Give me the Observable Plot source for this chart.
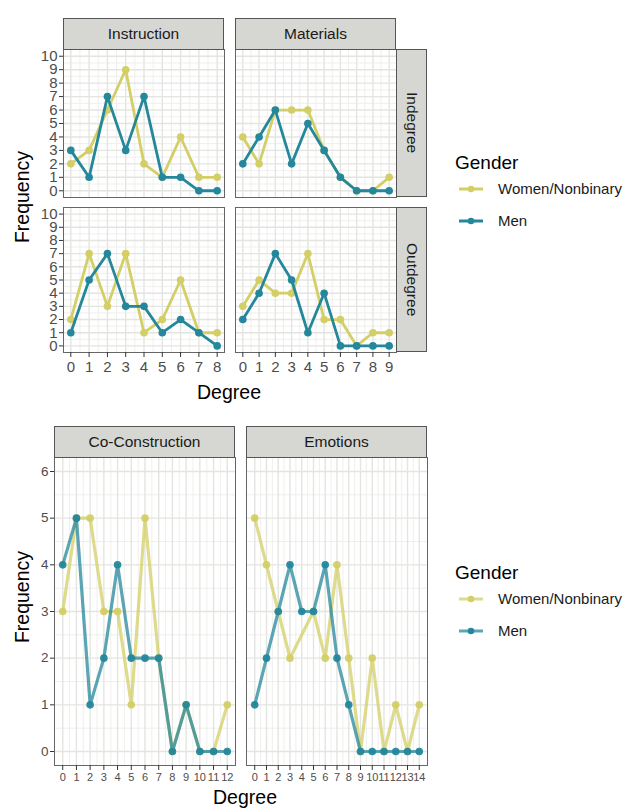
<!DOCTYPE html>
<html><head><meta charset="utf-8">
<script src="https://cdn.jsdelivr.net/npm/d3@7"></script>
<script src="https://cdn.jsdelivr.net/npm/@observablehq/plot@0.6"></script>
<style>
body{margin:0;background:#fff;font-family:"Liberation Sans",Arial,sans-serif;}
#root{position:relative;width:630px;height:808px;overflow:hidden;background:#fff;}
.strip{position:absolute;background:#D6D6D2;border:1px solid #555;box-sizing:border-box;display:flex;align-items:center;justify-content:center;font-size:15.5px;color:#1a1a1a;}
.vtext{writing-mode:vertical-rl;}
.title{position:absolute;font-size:19.5px;color:#000;white-space:nowrap;}
.legend{position:absolute;}
.legend .lt{font-size:19px;color:#000;position:absolute;white-space:nowrap;}
.legend .li{font-size:15px;color:#1a1a1a;position:absolute;white-space:nowrap;}
</style></head><body><div id="root"></div>
<script>
// ---------- data ----------
const genders = ["Women/Nonbinary", "Men"];
const colorWomen = "#D3CF66";
const colorMen = "#24879B";

// top figure (Indegree / Outdegree)
const degreesInstruction = [0,1,2,3,4,5,6,7,8];
const degreesMaterials = [0,1,2,3,4,5,6,7,8,9];
const instructionInWomen = [2,3,6,9,2,1,4,1,1];
const instructionInMen   = [3,1,7,3,7,1,1,0,0];
const materialsInWomen   = [4,2,6,6,6,3,1,0,0,1];
const materialsInMen     = [2,4,6,2,5,3,1,0,0,0];
const instructionOutWomen = [2,7,3,7,1,2,5,1,1];
const instructionOutMen   = [1,5,7,3,3,1,2,1,0];
const materialsOutWomen   = [3,5,4,4,7,2,2,0,1,1];
const materialsOutMen     = [2,4,7,5,1,4,0,0,0,0];
const topYTicks = [0,1,2,3,4,5,6,7,8,9,10];

// bottom figure
const degreesCoConstruction = [0,1,2,3,4,5,6,7,8,9,10,11,12];
const degreesEmotions = [0,1,2,3,4,5,6,7,8,9,10,11,12,13,14];
const coConstructionWomen = [3,5,5,3,3,1,5,2,0,1,0,0,1];
const coConstructionMen   = [4,5,1,2,4,2,2,2,0,1,0,0,0];
const emotionsWomen = [5,4,3,2,null,3,2,4,2,0,2,0,1,0,1]; // no value at degree 4
const emotionsMen   = [1,2,3,4,3,3,4,2,1,0,0,0,0,0,0];
const bottomYTicks = [0,1,2,3,4,5,6];

const root = document.getElementById("root");

function series(degrees, women, men) {
  const rows = [];
  degrees.forEach((d, i) => { if (women[i] != null) rows.push({degree: d, freq: women[i], gender: genders[0]}); });
  degrees.forEach((d, i) => { if (men[i] != null) rows.push({degree: d, freq: men[i], gender: genders[1]}); });
  return rows;
}

function halves(ticks) {
  const out = [];
  for (let i = 0; i < ticks.length - 1; i++) out.push((ticks[i] + ticks[i+1]) / 2);
  return out;
}

function panel(o) {
  const ml = o.showY ? 34 : 1, mb = o.showX ? 30 : 1;
  const data = series(o.degrees, o.women, o.men);
  const xr = o.degrees[o.degrees.length-1] - o.degrees[0];
  const yr = o.yTicks[o.yTicks.length-1] - o.yTicks[0];
  const xDom = [o.degrees[0] - 0.05*xr, o.degrees[o.degrees.length-1] + 0.05*xr];
  const yDom = [o.yTicks[0] - 0.05*yr, o.yTicks[o.yTicks.length-1] + 0.05*yr];
  const marks = [
    Plot.ruleX(halves(o.degrees), {stroke: "#EBEBE8", strokeWidth: 0.8}),
    Plot.ruleY(halves(o.yTicks), {stroke: "#EBEBE8", strokeWidth: 0.8}),
    Plot.ruleX(o.degrees, {stroke: "#E4E4E0", strokeWidth: 1.4}),
    Plot.ruleY(o.yTicks, {stroke: "#E4E4E0", strokeWidth: 1.4}),
  ];
  for (const g of genders) {
    const sub = data.filter(d => d.gender === g);
    const c = g === genders[0] ? colorWomen : colorMen;
    marks.push(Plot.line(sub, {x: "degree", y: "freq", stroke: c, strokeWidth: o.sw, strokeOpacity: o.alpha}));
    marks.push(Plot.dot(sub, {x: "degree", y: "freq", fill: c, r: o.r, fillOpacity: o.dotAlpha}));
  }
  marks.push(Plot.frame({stroke: "#666", strokeWidth: 1}));
  if (o.showY) marks.push(Plot.axisY(o.yTicks, {label: null, tickSize: 4, tickPadding: 2, fontSize: o.yFont, color: "#4D4D4D", stroke: "#333"}));
  if (o.showX) marks.push(Plot.axisX(o.degrees, {label: null, tickSize: 5, tickPadding: o.xPad, fontSize: o.xFont, color: "#4D4D4D", stroke: "#333"}));
  const p = Plot.plot({
    width: o.w + ml + 1, height: o.h + mb + 1,
    marginLeft: ml, marginRight: 1, marginTop: 1, marginBottom: mb,
    x: {domain: xDom, axis: null, label: null},
    y: {domain: yDom, axis: null, label: null},
    style: {background: "transparent", fontFamily: "Liberation Sans, Arial, sans-serif", overflow: "visible"},
    marks
  });
  p.style.position = "absolute";
  p.style.left = (o.x0 - ml) + "px";
  p.style.top = (o.y0 - 1) + "px";
  root.appendChild(p);
}

function strip(text, x, y, w, h, vertical) {
  const d = document.createElement("div");
  d.className = "strip";
  d.style.left = x + "px"; d.style.top = y + "px";
  d.style.width = w + "px"; d.style.height = h + "px";
  const s = document.createElement("span");
  s.textContent = text;
  if (vertical) s.className = "vtext";
  d.appendChild(s);
  root.appendChild(d);
}

function title(text, cx, cy, rotate) {
  const d = document.createElement("div");
  d.className = "title";
  d.textContent = text;
  d.style.left = cx + "px"; d.style.top = cy + "px";
  d.style.transform = rotate ? "translate(-50%,-50%) rotate(-90deg)" : "translate(-50%,-50%)";
  root.appendChild(d);
}

function legend(x, y, alpha) {
  const g = document.createElement("div");
  g.className = "legend";
  g.style.left = x + "px"; g.style.top = y + "px";
  const t = document.createElement("div");
  t.className = "lt"; t.textContent = "Gender";
  t.style.left = "0px"; t.style.top = "0px";
  g.appendChild(t);
  genders.forEach((name, i) => {
    const c = i === 0 ? colorWomen : colorMen;
    const yy = 37 + i * 32;
    const svg = d3.create("svg").attr("width", 26).attr("height", 12)
      .style("position", "absolute").style("left", "3px").style("top", (yy - 6) + "px");
    svg.append("line").attr("x1", 1).attr("x2", 25).attr("y1", 6).attr("y2", 6)
      .attr("stroke", c).attr("stroke-width", 3).attr("stroke-opacity", alpha);
    svg.append("circle").attr("cx", 13).attr("cy", 6).attr("r", 3.3).attr("fill", c);
    g.appendChild(svg.node());
    const l = document.createElement("div");
    l.className = "li"; l.textContent = name;
    l.style.left = "43px"; l.style.top = (yy - 9) + "px";
    g.appendChild(l);
  });
  root.appendChild(g);
}

// ---------- top figure ----------
const topCommon = {yTicks: topYTicks, sw: 2.8, r: 3.8, alpha: 1, dotAlpha: 1, yFont: 15, xFont: 15, xPad: 4};
panel({...topCommon, x0: 63, y0: 49, w: 161, h: 148, degrees: degreesInstruction, women: instructionInWomen, men: instructionInMen, showY: true, showX: false});
panel({...topCommon, x0: 235, y0: 49, w: 161, h: 148, degrees: degreesMaterials, women: materialsInWomen, men: materialsInMen, showY: false, showX: false});
panel({...topCommon, x0: 63, y0: 207, w: 161, h: 145, degrees: degreesInstruction, women: instructionOutWomen, men: instructionOutMen, showY: true, showX: true});
panel({...topCommon, x0: 235, y0: 207, w: 161, h: 145, degrees: degreesMaterials, women: materialsOutWomen, men: materialsOutMen, showY: false, showX: true});
strip("Instruction", 63, 18, 161, 32, false);
strip("Materials", 235, 18, 161, 32, false);
strip("Indegree", 396, 49, 31, 148, true);
strip("Outdegree", 396, 207, 31, 145, true);
title("Frequency", 22, 197, true);
title("Degree", 229, 392, false);
legend(455, 152, 1);

// ---------- bottom figure ----------
const botCommon = {yTicks: bottomYTicks, sw: 3.2, r: 3.8, alpha: 0.75, dotAlpha: 0.95, yFont: 13.5, xFont: 11, xPad: 3};
panel({...botCommon, x0: 54, y0: 457, w: 181, h: 308, degrees: degreesCoConstruction, women: coConstructionWomen, men: coConstructionMen, showY: true, showX: true});
panel({...botCommon, x0: 246, y0: 457, w: 181, h: 308, degrees: degreesEmotions, women: emotionsWomen, men: emotionsMen, showY: false, showX: true});
strip("Co-Construction", 54, 426, 181, 32, false);
strip("Emotions", 246, 426, 181, 32, false);
title("Frequency", 22, 597, true);
title("Degree", 245, 797, false);
legend(455, 562, 0.75);
</script></body></html>
